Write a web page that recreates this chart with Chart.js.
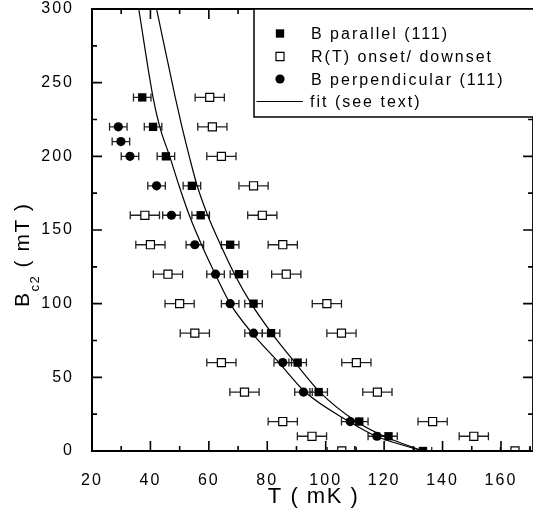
<!DOCTYPE html>
<html><head><meta charset="utf-8">
<script src="https://cdn.jsdelivr.net/npm/chart.js@4/dist/chart.umd.min.js"></script>
<style>html,body{margin:0;padding:0;overflow:hidden;background:#fff}canvas{display:block}</style>
</head><body>
<canvas id="c" width="540" height="510"></canvas>
<script>
// ---- data ----
const seriesLabels = ['B parallel (111)', 'R(T) onset/ downset', 'B perpendicular (111)', 'fit (see text)'];
const fieldPar  = [240, 220, 200, 180, 160, 140, 120, 100, 80, 60, 40, 20, 10, 0];
const tempPar   = [37.2, 40.9, 45.3, 54.2, 57.2, 67.3, 70.3, 75.3, 81.3, 90.4, 97.6, 111.5, 121.5, 133.3];
const fieldPerp = [220, 210, 200, 180, 160, 140, 120, 100, 80, 60, 40, 20, 10];
const tempPerp  = [29.0, 29.9, 33.0, 42.1, 47.2, 55.2, 62.3, 67.3, 75.3, 85.3, 92.4, 108.4, 117.5];
const fieldOnset = [240, 220, 200, 180, 160, 160, 140, 140, 120, 120, 100, 100, 80, 80, 60, 60, 40, 40, 20, 20, 10, 10, 0, 0];
const tempOnset  = [60.3, 61.2, 64.3, 75.3, 38.1, 78.3, 40.0, 85.3, 46.0, 86.5, 50.0, 100.4, 55.2, 105.4, 64.3, 110.5, 72.2, 117.7, 85.3, 136.6, 95.3, 150.7, 105.5, 164.8];
const errPar = 3, errPerp = 3, errOnset = 5;
const fitParField  = [300, 240, 220, 200, 180, 160, 140, 120, 100, 80, 60, 40, 20, 10, 0];
const fitParTemp   = [42.1, 48.5, 50.8, 53.3, 56.0, 59.6, 64.0, 68.8, 74.5, 81.5, 89.5, 98.0, 110.5, 120.0, 133.3];
const fitPerpField = [300, 240, 220, 200, 180, 160, 140, 120, 100, 80, 60, 40, 20, 10, 0];
const fitPerpTemp  = [36.0, 40.9, 43.2, 46.6, 49.8, 53.3, 57.5, 62.2, 67.3, 74.8, 84.0, 93.0, 108.0, 117.3, 133.3];
const xRange = [20, 171];
const yRange = [0, 300];
const xLabelStep = 20, yLabelStep = 50;
const xTitle = 'T ( mK )';
const yTitleMain = 'B', yTitleSub = 'c2', yTitleRest = ' ( mT )';

const FONT = "'Liberation Sans', Arial, Helvetica, sans-serif";
const pts = (xs, ys) => xs.map((x, i) => ({x: x, y: ys[i]}));

const datasets = [
  {label: seriesLabels[0], data: pts(tempPar, fieldPar), pointStyle: 'rect', pointRadius: 5.9,
   backgroundColor: '#000', borderColor: '#000', borderWidth: 0, showLine: false, clip: 0, order: 1, err: errPar},
  {label: seriesLabels[1], data: pts(tempOnset, fieldOnset), pointStyle: 'rect', pointRadius: 5.7,
   backgroundColor: '#fff', borderColor: '#000', borderWidth: 1.2, showLine: false, clip: 0, order: 2, err: errOnset},
  {label: seriesLabels[2], data: pts(tempPerp, fieldPerp), pointStyle: 'circle', pointRadius: 4.6,
   backgroundColor: '#000', borderColor: '#000', borderWidth: 0, showLine: false, clip: 0, order: 0, err: errPerp},
  {label: seriesLabels[3], data: pts(fitParTemp, fitParField), showLine: true, pointRadius: 0,
   borderColor: '#000', borderWidth: 1.2, fill: false, cubicInterpolationMode: 'monotone', clip: 0, order: 5},
  {label: seriesLabels[3], data: pts(fitPerpTemp, fitPerpField), showLine: true, pointRadius: 0,
   borderColor: '#000', borderWidth: 1.2, fill: false, cubicInterpolationMode: 'monotone', clip: 0, order: 5}
];

const spacingPlugin = {
  id: 'spacing',
  beforeDraw(chart) { chart.ctx.letterSpacing = '2px'; },
  afterDraw(chart) { chart.ctx.letterSpacing = '0px'; }
};

const errorBars = {
  id: 'errorBars',
  beforeDatasetsDraw(chart) {
    const {ctx, chartArea: a, scales: {x, y}} = chart;
    ctx.save();
    ctx.beginPath(); ctx.rect(a.left, a.top, a.right - a.left, a.bottom - a.top); ctx.clip();
    ctx.strokeStyle = '#222'; ctx.lineWidth = 1.3;
    chart.data.datasets.forEach(ds => {
      if (!ds.err) return;
      ds.data.forEach(p => {
        const py = y.getPixelForValue(p.y);
        const x1 = x.getPixelForValue(p.x - ds.err), x2 = x.getPixelForValue(p.x + ds.err);
        ctx.beginPath();
        ctx.moveTo(x1, py); ctx.lineTo(x2, py);
        ctx.moveTo(x1, py - 4); ctx.lineTo(x1, py + 4);
        ctx.moveTo(x2, py - 4); ctx.lineTo(x2, py + 4);
        ctx.stroke();
      });
    });
    ctx.restore();
  }
};

function drawMarker(ctx, ds, cx, cy) {
  ctx.save();
  ctx.fillStyle = ds.backgroundColor; ctx.strokeStyle = ds.borderColor; ctx.lineWidth = ds.borderWidth || 0;
  ctx.beginPath();
  if (ds.pointStyle === 'circle') ctx.arc(cx, cy, ds.pointRadius, 0, Math.PI * 2);
  else { const s = Math.SQRT1_2 * ds.pointRadius; ctx.rect(cx - s, cy - s, 2 * s, 2 * s); }
  ctx.fill();
  if (ds.borderWidth) ctx.stroke();
  ctx.restore();
}

const framePlugin = {
  id: 'frame',
  afterDraw(chart) {
    const {ctx, chartArea: a, scales: {x, y}} = chart;
    ctx.save();
    ctx.letterSpacing = '0px';
    ctx.strokeStyle = '#000';
    ctx.lineWidth = 1.6;
    x.ticks.forEach(t => {
      const px = x.getPixelForValue(t.value);
      const L = (Math.round(t.value) % xLabelStep === 0) ? 10 : 5;
      ctx.beginPath();
      ctx.moveTo(px, a.bottom); ctx.lineTo(px, a.bottom - L);
      ctx.moveTo(px, a.top); ctx.lineTo(px, a.top + L);
      ctx.stroke();
    });
    y.ticks.forEach(t => {
      const py = y.getPixelForValue(t.value);
      const L = (Math.round(t.value) % yLabelStep === 0) ? 10 : 5;
      ctx.beginPath();
      ctx.moveTo(a.left, py); ctx.lineTo(a.left + L, py);
      ctx.moveTo(a.right, py); ctx.lineTo(a.right - L, py);
      ctx.stroke();
    });
    ctx.lineWidth = 2;
    ctx.strokeRect(a.left, a.top, a.right - a.left, a.bottom - a.top);

    // legend box
    const lx = 254, ly = a.top;
    ctx.fillStyle = '#fff';
    ctx.fillRect(lx, ly, a.right - lx, 108);
    ctx.lineWidth = 1.5;
    ctx.strokeRect(lx, ly, a.right + 10 - lx, 108);
    const rows = [ly + 24.5, ly + 47.5, ly + 70];
    [0, 1, 2].forEach((di, i) => drawMarker(ctx, chart.data.datasets[di], 280, rows[i]));
    const fy = ly + 92.5;
    ctx.lineWidth = 1.2;
    ctx.beginPath(); ctx.moveTo(256.5, fy); ctx.lineTo(303, fy); ctx.stroke();
    ctx.fillStyle = '#000';
    ctx.font = '16px ' + FONT;
    ctx.letterSpacing = '2px';
    ctx.textAlign = 'left'; ctx.textBaseline = 'alphabetic';
    ctx.fillText(seriesLabels[0], 311, rows[0] + 5.7);
    ctx.fillText(seriesLabels[1], 311, rows[1] + 5.7);
    ctx.fillText(seriesLabels[2], 311, rows[2] + 5.7);
    ctx.fillText(seriesLabels[3], 310, fy + 5.2);

    // x title
    ctx.font = '22px ' + FONT;
    ctx.letterSpacing = '1.5px';
    ctx.textAlign = 'center';
    ctx.fillText(xTitle, (a.left + a.right) / 2 + 1, 503);

    // y title with subscript
    ctx.save();
    ctx.translate(29, 307);
    ctx.rotate(-Math.PI / 2);
    ctx.textAlign = 'left';
    ctx.font = '21px ' + FONT;
    ctx.fillText(yTitleMain, 0, 0);
    const w1 = ctx.measureText(yTitleMain).width;
    ctx.font = '13px ' + FONT;
    ctx.fillText(yTitleSub, w1, 9.5);
    const w2 = ctx.measureText(yTitleSub).width;
    ctx.font = '21px ' + FONT;
    ctx.fillText(yTitleRest, w1 + w2, 0);
    ctx.restore();

    ctx.restore();
  }
};

new Chart(document.getElementById('c'), {
  type: 'scatter',
  data: {datasets: datasets},
  options: {
    responsive: false,
    animation: false,
    events: [],
    layout: {padding: {top: 0, right: 6, left: 0, bottom: 0}},
    plugins: {legend: {display: false}, tooltip: {enabled: false}},
    scales: {
      x: {
        type: 'linear', position: 'bottom', min: xRange[0], max: xRange[1],
        grid: {display: false}, border: {display: false},
        ticks: {stepSize: 10, includeBounds: false, autoSkip: false, maxRotation: 0, padding: 12,
                color: '#000', font: {family: FONT, size: 16},
                callback: v => (v % xLabelStep === 0 && v <= 160) ? String(v) : ''},
        afterFit: s => { s.height = 59; s.paddingLeft = 0; s.paddingRight = 0; }
      },
      y: {
        type: 'linear', position: 'left', min: yRange[0], max: yRange[1],
        grid: {display: false}, border: {display: false},
        ticks: {stepSize: 25, includeBounds: false, autoSkip: false, padding: 10,
                color: '#000', font: {family: FONT, size: 16},
                callback: v => (v % yLabelStep === 0) ? String(v) : ''},
        afterFit: s => { s.width = 92; s.paddingTop = 9; s.paddingBottom = 0; }
      }
    }
  },
  plugins: [spacingPlugin, errorBars, framePlugin]
});
</script>
</body></html>
